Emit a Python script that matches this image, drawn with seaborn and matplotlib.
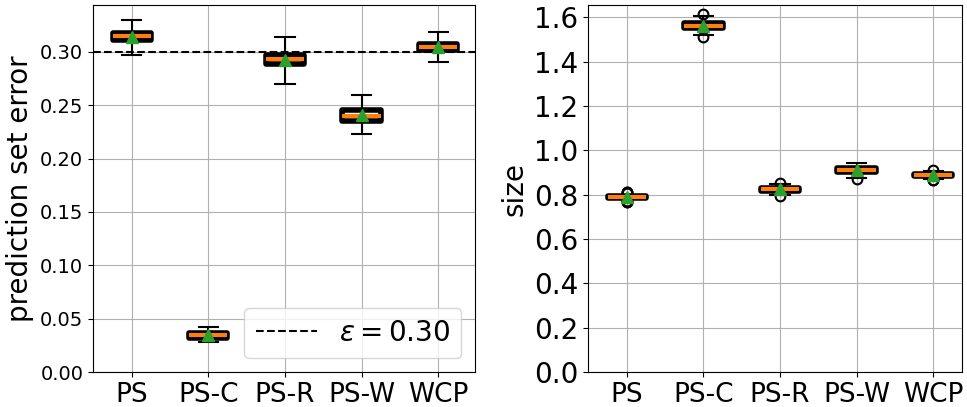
import numpy as np
import pandas as pd
import matplotlib
matplotlib.use("Agg")
import matplotlib.pyplot as plt
import seaborn as sns

methods = ["PS", "PS-C", "PS-R", "PS-W", "WCP"]

# prediction set error samples (min, q1, median, q3, max)
err_ps = [0.297, 0.311, 0.315, 0.3175, 0.330]
err_psc = [0.028, 0.032, 0.0345, 0.0365, 0.0425]
err_psr = [0.270, 0.289, 0.293, 0.297, 0.3137]
err_psw = [0.223, 0.2355, 0.2395, 0.2455, 0.260]
err_wcp = [0.291, 0.302, 0.305, 0.3075, 0.319]

# size samples (box quartiles plus outliers)
size_ps = [0.765, 0.768, 0.771, 0.784, 0.785, 0.787, 0.788, 0.789, 0.791, 0.792, 0.806, 0.810, 0.813]
size_psc = [1.510, 1.518, 1.525, 1.550, 1.553, 1.557, 1.560, 1.564, 1.570, 1.575, 1.595, 1.605, 1.615]
size_psr = [0.792, 0.798, 0.804, 0.817, 0.819, 0.821, 0.823, 0.825, 0.827, 0.830, 0.842, 0.848, 0.853]
size_psw = [0.872, 0.877, 0.884, 0.902, 0.905, 0.908, 0.911, 0.913, 0.916, 0.919, 0.932, 0.938, 0.943]
size_wcp = [0.864, 0.867, 0.872, 0.883, 0.885, 0.887, 0.888, 0.889, 0.891, 0.893, 0.900, 0.905, 0.909]

epsilon = 0.30

def long_df(groups):
    rows = []
    for m, vals in zip(methods, groups):
        for v in vals:
            rows.append({"method": m, "value": v})
    return pd.DataFrame(rows)

df_err = long_df([err_ps, err_psc, err_psr, err_psw, err_wcp])
df_size = long_df([size_ps, size_psc, size_psr, size_psw, size_wcp])

fig = plt.figure(figsize=(9.67, 4.07), dpi=100)
ax1 = fig.add_axes([93 / 967, 35 / 407, 382 / 967, 367 / 407])
ax2 = fig.add_axes([588 / 967, 35 / 407, 374 / 967, 367 / 407])

common = dict(
    x="method", y="value", order=methods, width=0.5,
    color="white", linecolor="black", linewidth=1.5,
    showmeans=True,
    boxprops=dict(facecolor="white", edgecolor="black", linewidth=4, joinstyle="round"),
    medianprops=dict(color="#ff7f0e", linewidth=3),
    meanprops=dict(marker="^", markerfacecolor="#2ca02c", markeredgecolor="#2ca02c", markersize=9),
    whiskerprops=dict(color="black", linewidth=1.5),
    capprops=dict(color="black", linewidth=1.5),
    flierprops=dict(marker="o", markerfacecolor="none", markeredgecolor="black",
                    markersize=7, markeredgewidth=1.5),
)

sns.boxplot(data=df_err, ax=ax1, whis=(0, 100), **common)
sns.boxplot(data=df_size, ax=ax2, whis=1.5, **common)

ax1.axhline(epsilon, color="black", ls="--", lw=1.5, label=r"$\epsilon = 0.30$")

for ax in (ax1, ax2):
    ax.grid(True, color="#b0b0b0", linewidth=0.8)
    ax.set_axisbelow(True)
    ax.set_xlabel("")
    ax.tick_params(axis="x", labelsize=19)

ax1.set_xlim(-0.505, 4.48)
ax2.set_xlim(-0.505, 4.375)
ax1.set_ylim(0, 0.344)
ax2.set_ylim(0, 1.655)

ax1.tick_params(axis="y", labelsize=14)
ax2.tick_params(axis="y", labelsize=20)
ax1.set_yticks(np.arange(0, 0.301, 0.05))
ax1.set_yticklabels([f"{t:.2f}" for t in np.arange(0, 0.301, 0.05)])
ax2.set_yticks(np.arange(0, 1.61, 0.2))
ax2.set_yticklabels([f"{t:.1f}" for t in np.arange(0, 1.61, 0.2)])

ax1.set_ylabel("prediction set error", fontsize=20)
ax2.set_ylabel("size", fontsize=20)

ax1.legend(loc="lower right", fontsize=20, handlelength=2.2)

fig.savefig("out.png", dpi=100)
